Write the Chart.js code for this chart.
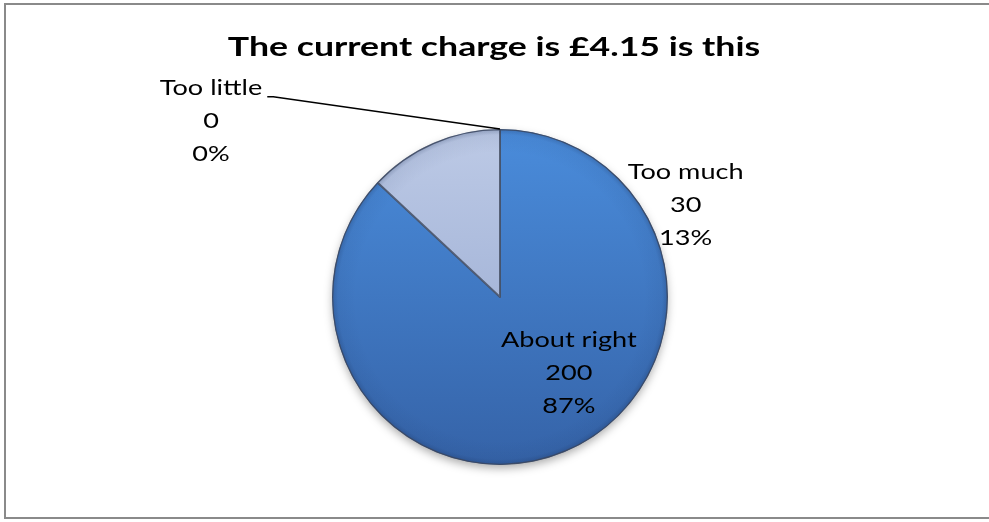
<!DOCTYPE html>
<html>
<head>
<meta charset="utf-8">
<title>The current charge is £4.15 is this</title>
<script src="https://cdn.jsdelivr.net/npm/chart.js@4.4.1/dist/chart.umd.min.js"></script>
<style>
  html, body { margin: 0; padding: 0; background: #fff; }
  #wrap { position: relative; width: 989px; height: 522px; }
  #frame { position: absolute; left: 4px; top: 3px; width: 986px; height: 516px;
           border: 2px solid #8a8a8a; border-right: none; box-sizing: border-box; pointer-events: none; }
  canvas { display: block; }
</style>
</head>
<body>
<div id="wrap">
  <canvas id="c" width="989" height="522"></canvas>
  <div id="frame"></div>
</div>
<script>
// Survey answers about the £4.15 charge
const titleText = 'The current charge is £4.15 is this';
const categories = ['Too little', 'About right', 'Too much'];
const responses = [0, 200, 30];

// Label anchors, in pie radii from the centre (first text line)
const labelAnchors = [[-1.72, -1.24], [0.41, 0.255], [1.105, -0.74]];
const labelFont = '21px Lato, "Open Sans", sans-serif';
const titleFont = 'bold 27px Lato, "Open Sans", sans-serif';
const textStretch = 1.29;   // text is set wide
const lineGap = 33;

const total = responses.reduce((a, b) => a + b, 0);

// top / bottom colours of each slice's vertical gradient
const sliceShades = [
  ['#bdcae6', '#91a4cd'],
  ['#4a8cdb', '#3563a8'],
  ['#bdcae6', '#91a4cd']
];

function sliceFill(ctx) {
  const [top, bottom] = sliceShades[ctx.dataIndex];
  const a = ctx.chart.chartArea;
  if (!a) return top;
  const g = ctx.chart.ctx.createLinearGradient(0, a.top, 0, a.bottom);
  g.addColorStop(0, top);
  g.addColorStop(1, bottom);
  return g;
}

function wideText(c, t, x, y, sx) {
  c.save();
  c.translate(x, y);
  c.scale(sx, 1);
  c.fillText(t, 0, 0);
  c.restore();
}

const decor = {
  id: 'decor',
  beforeDatasetsDraw(chart) {
    const arc = chart.getDatasetMeta(0).data[1];
    const c = chart.ctx;
    c.save();
    c.shadowColor = 'rgba(0,0,0,0.35)';
    c.shadowBlur = 10;
    c.shadowOffsetY = 4;
    c.beginPath();
    c.arc(arc.x, arc.y, arc.outerRadius - 1, 0, Math.PI * 2);
    c.fillStyle = '#3d6fb8';
    c.fill();
    c.restore();
  },
  afterDatasetsDraw(chart) {
    const c = chart.ctx;
    const meta = chart.getDatasetMeta(0);
    const a0 = meta.data[0];
    const r = a0.outerRadius;
    // soft bevel along the rim
    c.save();
    const rim = c.createRadialGradient(a0.x, a0.y, r * 0.86, a0.x, a0.y, r);
    rim.addColorStop(0, 'rgba(20,40,80,0)');
    rim.addColorStop(0.75, 'rgba(20,40,80,0.06)');
    rim.addColorStop(1, 'rgba(20,40,80,0.28)');
    c.beginPath();
    c.arc(a0.x, a0.y, r, 0, Math.PI * 2);
    c.fillStyle = rim;
    c.fill();
    c.restore();

    // title
    c.save();
    c.fillStyle = '#000';
    c.textAlign = 'center';
    c.textBaseline = 'middle';
    c.font = titleFont;
    wideText(c, titleText, 494, 47, 1.32);

    // data labels: name, value, percentage
    c.font = labelFont;
    const anchors = [];
    responses.forEach((v, i) => {
      const x = a0.x + labelAnchors[i][0] * r;
      const y = a0.y + labelAnchors[i][1] * r;
      const pct = Math.round(v / total * 100) + '%';
      [categories[i], String(v), pct].forEach((t, k) => wideText(c, t, x, y + k * lineGap, textStretch));
      anchors.push([x, y, c.measureText(categories[i]).width * textStretch]);
    });

    // leader line from the "Too little" label to its zero-size slice
    const [lx, ly, lw] = anchors[0];
    const ang = a0.startAngle;
    const px = a0.x + Math.cos(ang) * r;
    const py = a0.y + Math.sin(ang) * r;
    c.strokeStyle = '#000';
    c.lineWidth = 1.5;
    c.beginPath();
    c.moveTo(lx + lw / 2 + 5, ly + 8);
    c.lineTo(lx + lw / 2 + 11, ly + 8);
    c.lineTo(px, py);
    c.stroke();
    c.restore();
  }
};

new Chart(document.getElementById('c'), {
  type: 'pie',
  data: {
    labels: categories,
    datasets: [{
      data: responses,
      backgroundColor: sliceFill,
      borderColor: 'rgba(70,80,100,0.85)',
      borderWidth: 1,
      borderAlign: 'inner'
    }]
  },
  options: {
    responsive: false,
    animation: false,
    rotation: 0,
    layout: { padding: { top: 129, bottom: 57, left: 332, right: 321 } },
    plugins: {
      legend: { display: false },
      title: { display: false },
      tooltip: { enabled: false }
    }
  },
  plugins: [decor]
});
</script>
</body>
</html>
